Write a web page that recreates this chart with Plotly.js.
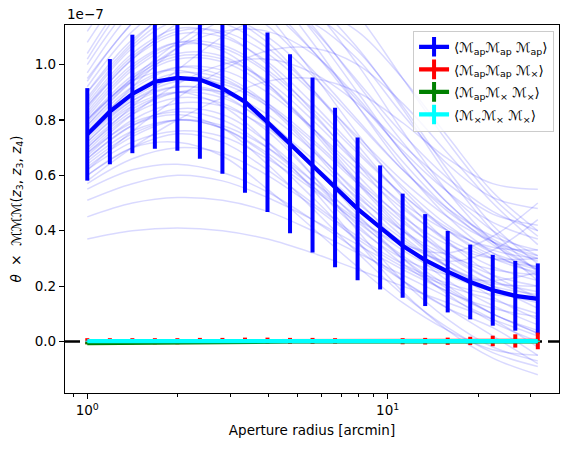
<!DOCTYPE html>
<html>
<head>
<meta charset="utf-8">
<script src="https://cdn.plot.ly/plotly-3.0.1.min.js"></script>
<style>
  html, body { margin: 0; padding: 0; background: #fff; }
  #chart { width: 570px; height: 452px; }
</style>
</head>
<body>
<div id="chart"></div>
<script>
// Aperture radii [arcmin] of the measured statistics
const radius = [1.000, 1.189, 1.413, 1.679, 1.995, 2.371, 2.818, 3.350, 3.981, 4.732,
                5.623, 6.683, 7.943, 9.441, 11.220, 13.335, 15.849, 18.836, 22.387, 26.607, 31.623];

// theta x <MMM>, in units of 1e-7
const meanApApAp = [0.748, 0.830, 0.894, 0.938, 0.952, 0.946, 0.914, 0.866, 0.792, 0.714,
                    0.637, 0.556, 0.479, 0.412, 0.346, 0.294, 0.252, 0.215, 0.185, 0.165, 0.154];
const errApApAp  = [0.167, 0.190, 0.214, 0.242, 0.263, 0.286, 0.308, 0.329, 0.324, 0.323,
                    0.316, 0.288, 0.258, 0.224, 0.188, 0.166, 0.147, 0.135, 0.128, 0.126, 0.128];

const meanApApX = [0.001, 0.001, 0.001, 0.001, 0.001, 0.002, 0.002, 0.003, 0.003, 0.002,
                   0.002, 0.002, 0.001, 0.001, 0.001, 0.001, 0.001, 0.002, 0.002, 0.002, 0.002];
const errApApX  = [0.011, 0.011, 0.011, 0.011, 0.011, 0.011, 0.011, 0.011, 0.011, 0.011,
                   0.011, 0.010, 0.005, 0.005, 0.011, 0.012, 0.013, 0.015, 0.019, 0.024, 0.030];

const meanApXX = [-0.006, -0.005, -0.004, -0.003, -0.002, -0.001, -0.001, 0.000, 0.000, 0.000,
                  0.000, 0.000, 0.000, 0.000, 0.000, 0.000, 0.000, 0.000, 0.000, 0.000, 0.000];
const errApXX  = [0.004, 0.004, 0.004, 0.004, 0.003, 0.003, 0.003, 0.003, 0.003, 0.003,
                  0.003, 0.003, 0.003, 0.003, 0.003, 0.003, 0.003, 0.003, 0.003, 0.003, 0.003];

const meanXXX = [0.001, 0.001, 0.001, 0.001, 0.001, 0.001, 0.001, 0.001, 0.001, 0.001,
                 0.001, 0.001, 0.001, 0.001, 0.001, 0.001, 0.001, 0.001, 0.001, 0.001, 0.001];
const errXXX  = [0.002, 0.002, 0.002, 0.002, 0.002, 0.002, 0.002, 0.002, 0.002, 0.002,
                 0.002, 0.002, 0.002, 0.002, 0.002, 0.002, 0.002, 0.002, 0.002, 0.002, 0.002];

// Individual realisations of <Map Map Map>, sampled at every other radius
const realRadius = [1.000, 1.413, 1.995, 2.818, 3.981, 5.623, 7.943, 11.220, 15.849, 22.387, 31.623];
const realizations = [
  [0.37, 0.40, 0.41, 0.40, 0.37, 0.32, 0.26, 0.20, 0.14, 0.08, 0.02],
  [0.45, 0.50, 0.52, 0.51, 0.47, 0.40, 0.32, 0.24, 0.16, 0.08, -0.02],
  [0.51, 0.57, 0.60, 0.58, 0.52, 0.44, 0.35, 0.26, 0.18, 0.10, 0.03],
  [0.55, 0.62, 0.64, 0.61, 0.54, 0.44, 0.33, 0.22, 0.12, 0.02, -0.08],
  [0.57, 0.66, 0.70, 0.68, 0.60, 0.49, 0.37, 0.27, 0.20, 0.15, 0.10],
  [0.60, 0.70, 0.75, 0.72, 0.62, 0.50, 0.38, 0.28, 0.21, 0.17, 0.16],
  [0.62, 0.72, 0.76, 0.74, 0.66, 0.55, 0.43, 0.31, 0.20, 0.10, 0.04],
  [0.63, 0.74, 0.80, 0.78, 0.70, 0.58, 0.45, 0.33, 0.24, 0.18, 0.14],
  [0.65, 0.76, 0.80, 0.77, 0.67, 0.52, 0.36, 0.22, 0.12, 0.05, -0.05],
  [0.66, 0.78, 0.84, 0.82, 0.72, 0.58, 0.42, 0.28, 0.18, 0.12, 0.09],
  [0.67, 0.80, 0.86, 0.85, 0.77, 0.64, 0.50, 0.37, 0.27, 0.21, 0.20],
  [0.68, 0.79, 0.83, 0.80, 0.70, 0.56, 0.41, 0.30, 0.24, 0.22, 0.25],
  [0.69, 0.82, 0.88, 0.86, 0.76, 0.60, 0.44, 0.30, 0.19, 0.10, 0.03],
  [0.70, 0.83, 0.90, 0.90, 0.82, 0.69, 0.54, 0.40, 0.29, 0.20, 0.12],
  [0.71, 0.84, 0.90, 0.88, 0.79, 0.66, 0.52, 0.40, 0.31, 0.26, 0.24],
  [0.72, 0.86, 0.92, 0.90, 0.80, 0.64, 0.46, 0.30, 0.17, 0.07, 0.00],
  [0.73, 0.87, 0.94, 0.93, 0.85, 0.72, 0.57, 0.43, 0.32, 0.24, 0.20],
  [0.74, 0.88, 0.95, 0.94, 0.86, 0.73, 0.58, 0.45, 0.35, 0.30, 0.30],
  [0.75, 0.90, 0.97, 0.95, 0.85, 0.69, 0.51, 0.35, 0.22, 0.13, 0.06],
  [0.76, 0.91, 0.99, 0.98, 0.90, 0.77, 0.62, 0.48, 0.37, 0.30, 0.27],
  [0.77, 0.92, 0.99, 0.96, 0.86, 0.70, 0.53, 0.38, 0.27, 0.20, 0.17],
  [0.78, 0.94, 1.02, 1.01, 0.92, 0.77, 0.60, 0.44, 0.31, 0.22, 0.18],
  [0.79, 0.95, 1.03, 1.02, 0.94, 0.80, 0.64, 0.50, 0.40, 0.34, 0.33],
  [0.80, 0.96, 1.04, 1.03, 0.93, 0.77, 0.58, 0.41, 0.27, 0.16, 0.08],
  [0.81, 0.98, 1.07, 1.06, 0.97, 0.82, 0.65, 0.49, 0.36, 0.27, 0.22],
  [0.82, 0.99, 1.08, 1.07, 0.98, 0.84, 0.68, 0.53, 0.41, 0.33, 0.30],
  [0.83, 1.00, 1.08, 1.05, 0.93, 0.76, 0.57, 0.40, 0.27, 0.19, 0.15],
  [0.84, 1.02, 1.11, 1.10, 1.01, 0.86, 0.69, 0.53, 0.40, 0.31, 0.26],
  [0.85, 1.03, 1.12, 1.12, 1.04, 0.90, 0.74, 0.58, 0.45, 0.36, 0.31],
  [0.86, 1.04, 1.13, 1.11, 1.00, 0.83, 0.64, 0.46, 0.32, 0.22, 0.16],
  [0.87, 1.06, 1.16, 1.15, 1.06, 0.91, 0.73, 0.56, 0.42, 0.32, 0.27],
  [0.88, 1.07, 1.18, 1.18, 1.10, 0.96, 0.79, 0.62, 0.48, 0.38, 0.33],
  [0.90, 1.09, 1.19, 1.18, 1.08, 0.91, 0.71, 0.52, 0.36, 0.24, 0.16],
  [0.92, 1.12, 1.23, 1.23, 1.14, 0.98, 0.80, 0.62, 0.47, 0.36, 0.29],
  [0.94, 1.15, 1.27, 1.28, 1.20, 1.05, 0.87, 0.69, 0.54, 0.43, 0.37],
  [0.97, 1.19, 1.31, 1.31, 1.22, 1.05, 0.85, 0.65, 0.48, 0.35, 0.26],
  [1.00, 1.22, 1.35, 1.36, 1.28, 1.13, 0.94, 0.75, 0.59, 0.47, 0.40],
  [1.04, 1.27, 1.40, 1.40, 1.31, 1.14, 0.93, 0.72, 0.54, 0.40, 0.31],
  [0.80, 0.95, 1.08, 1.18, 1.22, 1.18, 1.05, 0.85, 0.62, 0.42, 0.28],
  [0.70, 0.85, 0.98, 1.10, 1.18, 1.20, 1.12, 0.95, 0.74, 0.54, 0.40],
  [0.85, 1.02, 1.15, 1.25, 1.28, 1.22, 1.06, 0.84, 0.60, 0.40, 0.25],
  [0.62, 0.76, 0.88, 0.98, 1.05, 1.06, 1.00, 0.86, 0.68, 0.50, 0.35],
  [0.90, 1.08, 1.22, 1.30, 1.30, 1.20, 1.00, 0.76, 0.54, 0.36, 0.22],
  [0.75, 0.92, 1.06, 1.16, 1.20, 1.15, 1.02, 0.82, 0.64, 0.52, 0.48],
  [0.58, 0.70, 0.80, 0.88, 0.94, 0.95, 0.90, 0.79, 0.66, 0.57, 0.55],
  [0.95, 1.15, 1.30, 1.40, 1.42, 1.35, 1.18, 0.95, 0.72, 0.52, 0.38],
  [0.68, 0.82, 0.93, 1.00, 1.02, 0.97, 0.86, 0.71, 0.57, 0.46, 0.42],
  [0.78, 0.94, 1.06, 1.12, 1.12, 1.04, 0.88, 0.68, 0.50, 0.36, 0.26],
  [0.72, 0.85, 0.90, 0.85, 0.72, 0.55, 0.36, 0.18, 0.04, -0.06, -0.12],
  [0.66, 0.78, 0.82, 0.77, 0.64, 0.48, 0.32, 0.17, 0.05, -0.04, -0.09],
  [0.80, 0.94, 0.98, 0.92, 0.78, 0.60, 0.40, 0.22, 0.08, -0.02, -0.07],
  [0.60, 0.70, 0.72, 0.67, 0.55, 0.41, 0.27, 0.14, 0.04, -0.03, -0.05],
  [0.64, 0.75, 0.80, 0.77, 0.68, 0.56, 0.44, 0.35, 0.32, 0.38, 0.50],
  [0.74, 0.87, 0.92, 0.89, 0.78, 0.63, 0.48, 0.36, 0.29, 0.33, 0.44],
  [1.08, 1.30, 1.42, 1.40, 1.28, 1.08, 0.85, 0.63, 0.45, 0.32, 0.24],
  [1.12, 1.32, 1.40, 1.34, 1.18, 0.97, 0.75, 0.55, 0.40, 0.30, 0.25],
  [1.02, 1.25, 1.38, 1.39, 1.30, 1.12, 0.90, 0.68, 0.50, 0.37, 0.30]
];

const legendNames = [
  '⟨ℳ<sub>ap</sub>ℳ<sub>ap</sub> ℳ<sub>ap</sub>⟩',
  '⟨ℳ<sub>ap</sub>ℳ<sub>ap</sub> ℳ<sub>×</sub>⟩',
  '⟨ℳ<sub>ap</sub>ℳ<sub>×</sub> ℳ<sub>×</sub>⟩',
  '⟨ℳ<sub>×</sub>ℳ<sub>×</sub> ℳ<sub>×</sub>⟩'
];
const seriesColors = ['#0000ff', '#ff0000', '#008000', '#00ffff'];

const traces = [];

realizations.forEach(r => {
  traces.push({
    x: realRadius, y: r, type: 'scatter', mode: 'lines',
    line: { color: 'rgba(0,0,255,0.15)', width: 1.5, shape: 'spline', smoothing: 1 },
    showlegend: false, hoverinfo: 'skip'
  });
});

const seriesMeans = [meanApApAp, meanApApX, meanApXX, meanXXX];
const seriesErrs = [errApApAp, errApApX, errApXX, errXXX];
seriesMeans.forEach((m, i) => {
  traces.push({
    x: radius, y: m, type: 'scatter', mode: 'lines',
    line: { color: seriesColors[i], width: 4.2 },
    error_y: { type: 'data', array: seriesErrs[i], visible: true,
               color: seriesColors[i], thickness: 4, width: 0 },
    showlegend: false
  });
});

// Legend entries: line with a vertical error-bar glyph
legendNames.forEach((name, i) => {
  traces.push({
    x: [0.01], y: [0], type: 'scatter', mode: 'lines+markers', name: name,
    legendgroup: 'g' + i,
    line: { color: seriesColors[i], width: 4.2 },
    marker: { symbol: 'line-ns-open', size: 14, color: seriesColors[i],
              line: { color: seriesColors[i], width: 4 } }
  });
});

const font = { family: 'DejaVu Sans, sans-serif', size: 13.5, color: '#000' };

const layout = {
  width: 570, height: 452,
  margin: { l: 65, r: 11, t: 25, b: 59 },
  paper_bgcolor: '#fff', plot_bgcolor: '#fff',
  font: font,
  showlegend: true,
  legend: {
    x: 0.99, xanchor: 'right', y: 0.985, yanchor: 'top',
    bgcolor: 'rgba(255,255,255,0.8)', bordercolor: '#cccccc', borderwidth: 1,
    font: { family: 'DejaVu Sans, sans-serif', size: 13.5, color: '#000' },
    traceorder: 'grouped', tracegroupgap: 2
  },
  xaxis: {
    type: 'log',
    range: [Math.log10(0.843), Math.log10(37.2)],
    tickmode: 'array', tickvals: [1, 10],
    ticktext: ['10<sup>0</sup>', '10<sup>1</sup>'],
    ticks: 'outside', ticklen: 5, tickwidth: 1.1, tickcolor: '#000',
    minor: { tickmode: 'array', tickvals: [0.9, 2, 3, 4, 5, 6, 7, 8, 9, 20, 30],
             ticks: 'outside', ticklen: 3, tickwidth: 1, tickcolor: '#000', showgrid: false },
    showline: true, linecolor: '#000', linewidth: 1.1, mirror: true,
    showgrid: false, zeroline: false,
    title: { text: 'Aperture radius [arcmin]', font: font, standoff: 8 },
    automargin: false
  },
  yaxis: {
    range: [-0.186, 1.143],
    tickmode: 'array', tickvals: [0, 0.2, 0.4, 0.6, 0.8, 1.0],
    ticktext: ['0.0', '0.2', '0.4', '0.6', '0.8', '1.0'],
    ticks: 'outside', ticklen: 5, tickwidth: 1.1, tickcolor: '#000',
    showline: true, linecolor: '#000', linewidth: 1.1, mirror: true,
    showgrid: false, zeroline: false,
    title: { text: '<i>θ</i>  ×  ℳℳℳ(<i>z</i><sub>3</sub>, <i>z</i><sub>3</sub>, <i>z</i><sub>4</sub>)',
             font: font, standoff: 10 },
    automargin: false
  },
  shapes: [{
    type: 'line', xref: 'paper', x0: 0, x1: 1, yref: 'y', y0: 0, y1: 0,
    line: { color: '#000', width: 2.6, dash: '15px,6px' }, layer: 'below'
  }],
  annotations: [{
    text: '1e−7', xref: 'paper', yref: 'paper', x: 0, y: 1,
    xanchor: 'left', yanchor: 'bottom', yshift: 1, showarrow: false, font: font
  }]
};

Plotly.newPlot('chart', traces, layout, { displayModeBar: false, staticPlot: true });
</script>
</body>
</html>
